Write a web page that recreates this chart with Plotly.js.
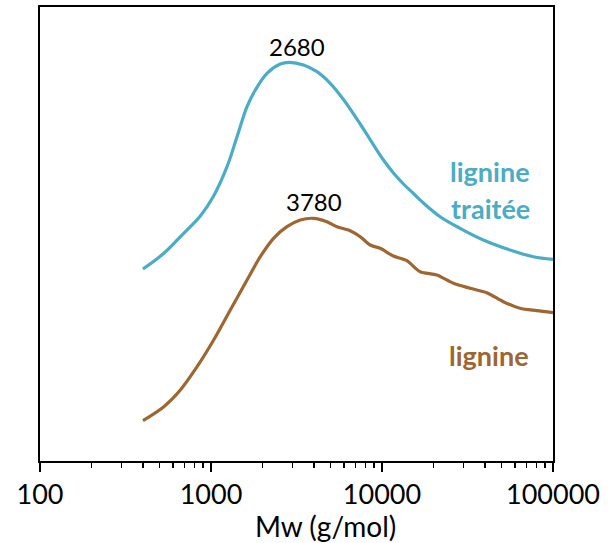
<!DOCTYPE html>
<html>
<head>
<meta charset="utf-8">
<script src="https://cdn.plot.ly/plotly-3.0.1.min.js"></script>
<style>html,body{margin:0;padding:0;background:#fff;}#chart{width:611px;height:543px;}</style>
</head>
<body>
<div id="chart"></div>
<script>
// Molar mass (g/mol) and relative signal (arbitrary units)
const mwTraitee = [400, 530, 692, 866, 1036, 1241, 1420, 1624, 1816, 2125, 2541, 2880, 3477, 4164, 4978, 5954, 7455, 8528, 10198, 11668, 13350, 15270, 17470, 21870, 28610, 39140, 56070, 76700, 100000];
const sigTraitee = [192, 207.7, 227.7, 245, 265, 294.3, 324.3, 354.3, 371, 387.7, 397, 398.7, 396, 389.3, 377.7, 361.5, 337, 321.4, 301, 288, 277, 267.5, 258, 244.3, 232.7, 221, 211, 204.3, 201.7];

const mwLignine = [400, 530, 662, 829, 1036, 1297, 1624, 1942, 2322, 2781, 3326, 3977, 4764, 5449, 6516, 7455, 8528, 9757, 11650, 13972, 16710, 20920, 26150, 32740, 40990, 51240, 64150, 80300, 100000];
const sigLignine = [40.3, 54.3, 71, 94.3, 121, 151, 181, 204.3, 222.7, 234.3, 241, 242.7, 239.3, 234.3, 230.3, 224.3, 216, 212.7, 205, 200.3, 189.3, 186, 177.7, 172.7, 168.3, 159.3, 152.7, 150.3, 148.3];

const xTickVals = [100, 1000, 10000, 100000];
const xTickText = ['100', '1000', '10000', '100000'];

const blue = '#4BACC6';
const brown = '#9E6631';
const font = 'Lato, "Open Sans", sans-serif';

const traces = [
  {x: mwTraitee, y: sigTraitee, mode: 'lines', line: {color: blue, width: 3.2, shape: 'spline', smoothing: 1}, hoverinfo: 'skip'},
  {x: mwLignine, y: sigLignine, mode: 'lines', line: {color: brown, width: 3.2, shape: 'spline', smoothing: 0.8}, hoverinfo: 'skip'}
];

const W = 513.5, H = 454, L = 39.5, T = 7;
function px(x) { return (x - L) / W; }
function py(y) { return (T + H - y) / H; }
function ann(x, y, text, color, size) {
  return {xref: 'paper', yref: 'paper', x: px(x), y: py(y), xanchor: 'center', yanchor: 'middle',
          text: text, showarrow: false, font: {family: font, size: size, color: color}};
}

const layout = {
  width: 611, height: 543,
  margin: {l: 40, r: 58, t: 7, b: 82},
  paper_bgcolor: '#fff', plot_bgcolor: '#fff',
  showlegend: false,
  font: {family: font, size: 27, color: '#000'},
  xaxis: {
    type: 'log', range: [2, 5],
    tickvals: xTickVals, ticktext: xTickText,
    ticks: 'outside', ticklen: 9, tickwidth: 2, tickcolor: '#000',
    minor: {ticks: 'outside', ticklen: 5, tickwidth: 1.5, tickcolor: '#000', dtick: 'D1', showgrid: false},
    showline: true, linecolor: '#000', linewidth: 2, mirror: true,
    showgrid: false, zeroline: false,
    tickfont: {family: font, size: 27, color: '#000'}
  },
  yaxis: {
    range: [0, 454],
    showticklabels: false, ticks: '',
    showline: true, linecolor: '#000', linewidth: 2, mirror: true,
    showgrid: false, zeroline: false
  },
  annotations: [
    ann(297, 46, '2680', '#000', 24),
    ann(314, 201, '3780', '#000', 24),
    ann(490, 171, '<b>lignine</b>', blue, 27),
    ann(490, 208, '<b>traitée</b>', blue, 27),
    ann(489, 355, '<b>lignine</b>', brown, 27),
    ann(325, 526, 'Mw (g/mol)', '#000', 28)
  ]
};

Plotly.newPlot('chart', traces, layout, {staticPlot: true, displayModeBar: false});
</script>
</body>
</html>
